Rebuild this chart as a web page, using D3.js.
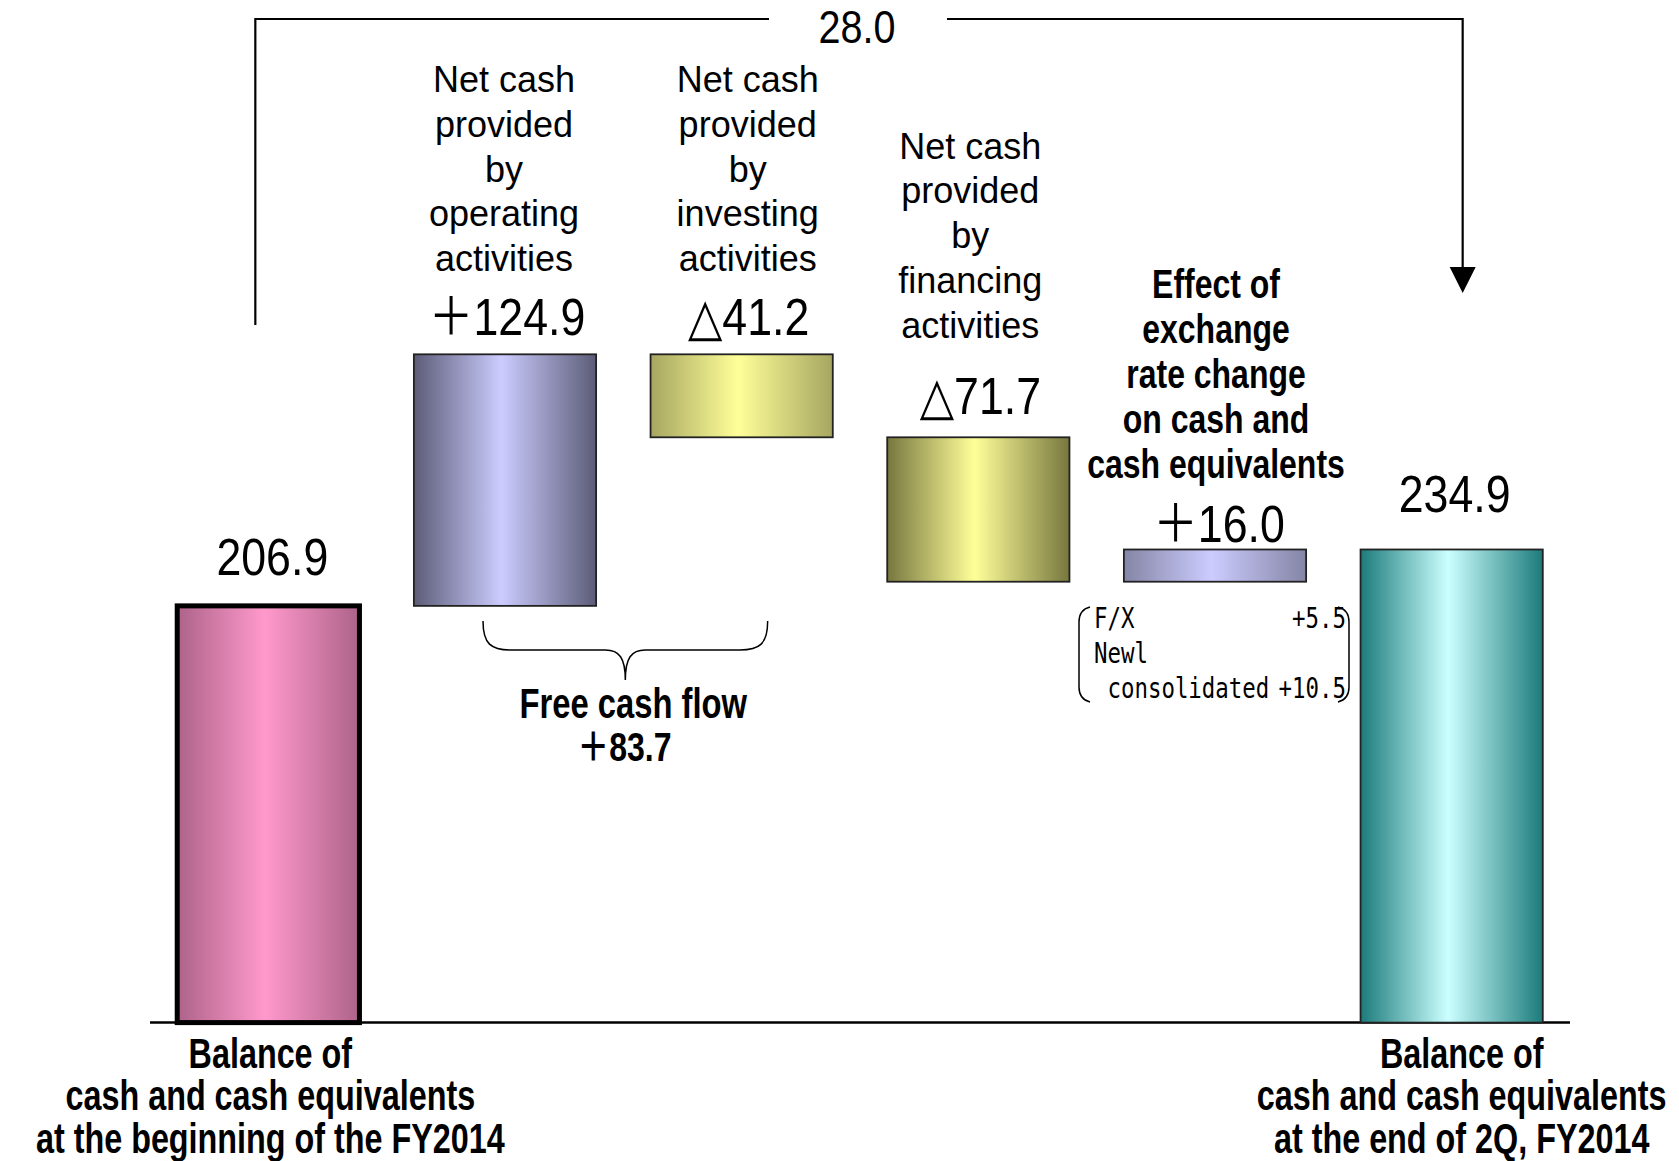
<!DOCTYPE html>
<html>
<head>
<meta charset="utf-8">
<script src="https://cdn.jsdelivr.net/npm/d3@7"></script>
<style>
  body { margin: 0; background: #fff; }
  svg { display: block; }
  text { font-family: "Liberation Sans", "DejaVu Sans", "Noto Sans CJK JP", sans-serif; fill: #000; }
</style>
</head>
<body>
<svg id="svg" width="1679" height="1161"></svg>
<script>
// DATA
var categories = ["begin", "operating", "investing", "financing", "fx", "end"];
var values = [206.9, 124.9, -41.2, -71.7, 16.0, 234.9];
var isTotal = [true, false, false, false, false, true];
var valueLabels = ["206.9", "＋124.9", "△41.2", "△71.7", "＋16.0", "234.9"];
var topLabels = {
  operating: ["Net cash", "provided", "by", "operating", "activities"],
  investing: ["Net cash", "provided", "by", "investing", "activities"],
  financing: ["Net cash", "provided", "by", "financing", "activities"],
  fx: ["Effect of", "exchange", "rate change", "on cash and", "cash equivalents"]
};
var bottomLabels = {
  begin: ["Balance of", "cash and cash equivalents", "at the beginning of the FY2014"],
  end: ["Balance of", "cash and cash equivalents", "at the end of 2Q, FY2014"]
};
var totalChange = "28.0";
var freeCashFlow = ["Free cash flow", "＋83.7"];
var fxItems = [["F/X", "+5.5"], ["Newl", ""], [" consolidated", "+10.5"]];

// colours: [edge, centre]
var barColors = {
  begin: ["#ad6389", "#ff99cc"],
  operating: ["#5c5c78", "#ccccff"],
  investing: ["#a6a661", "#ffff99"],
  financing: ["#77773f", "#ffff99"],
  fx: ["#8585a6", "#ccccff"],
  end: ["#1c7b7b", "#ccffff"]
};

// SETUP
var svg = d3.select("#svg");

var x = d3.scaleBand()
  .domain(categories)
  .range([150, 1570])
  .paddingInner(0.23)
  .paddingOuter(0.115);

var y = d3.scaleLinear()
  .domain([0, 340])
  .range([1022.6, 337.8]);

// waterfall steps
var run = 0;
var steps = categories.map(function (c, i) {
  var v = values[i], y0, y1;
  if (isTotal[i]) { y0 = 0; y1 = v; run = v; }
  else { y0 = run; y1 = run + v; run += v; }
  return { key: c, v: v, lo: Math.min(y0, y1), hi: Math.max(y0, y1), label: valueLabels[i] };
});

var defs = svg.append("defs");
categories.forEach(function (c) {
  var gr = defs.append("linearGradient")
    .attr("id", "grad-" + c)
    .attr("x1", 0).attr("x2", 1).attr("y1", 0).attr("y2", 0);
  gr.append("stop").attr("offset", "0%").attr("stop-color", barColors[c][0]);
  gr.append("stop").attr("offset", "48%").attr("stop-color", barColors[c][1]);
  gr.append("stop").attr("offset", "100%").attr("stop-color", barColors[c][0]);
});

function cx(c) { return x(c) + x.bandwidth() / 2; }

// squeezed text helper
function label(g, px, py, s, size, weight, sx, anchor) {
  return g.append("text")
    .attr("transform", "translate(" + px + "," + py + ") scale(" + sx + ",1)")
    .attr("text-anchor", anchor || "middle")
    .attr("font-size", size)
    .attr("font-weight", weight)
    .style("white-space", "pre")
    .text(s);
}

// baseline
svg.append("line")
  .attr("x1", 150).attr("x2", 1570)
  .attr("y1", y(0)).attr("y2", y(0))
  .attr("stroke", "#000")
  .attr("stroke-width", 2.5);

// bars
svg.selectAll(".bar")
  .data(steps)
  .enter().append("rect")
  .attr("class", "bar")
  .attr("x", function (d) { return x(d.key); })
  .attr("y", function (d) { return y(d.hi); })
  .attr("width", x.bandwidth())
  .attr("height", function (d) { return y(d.lo) - y(d.hi); })
  .attr("fill", function (d) { return "url(#grad-" + d.key + ")"; })
  .attr("stroke", function (d) { return d.key == "begin" ? "#000" : "#222"; })
  .attr("stroke-width", function (d) { return d.key == "begin" ? 5 : 1.8; });

// value labels above bars
var labelGap = { begin: 31, operating: 19, investing: 19, financing: 23, fx: 7, end: 37 };
var labelDx = { begin: 4, operating: 2, investing: 7, financing: 2, fx: 4, end: 3 };
steps.forEach(function (d) {
  label(svg, cx(d.key) + labelDx[d.key], y(d.hi) - labelGap[d.key], d.label, 52, "normal", 0.86);
});

// category labels above
var topFirst = { operating: 92, investing: 92, financing: 158.5, fx: 298 };
var topDx = { operating: -1, investing: 6, financing: -8, fx: 1 };
Object.keys(topLabels).forEach(function (c) {
  topLabels[c].forEach(function (s, i) {
    if (c == "fx") label(svg, cx(c) + topDx[c], topFirst[c] + i * 45, s, 41, "bold", 0.78);
    else label(svg, cx(c) + topDx[c], topFirst[c] + i * 44.8, s, 36, "normal", 1);
  });
});

// bottom labels
Object.keys(bottomLabels).forEach(function (c) {
  bottomLabels[c].forEach(function (s, i) {
    label(svg, cx(c) + (c == "end" ? 10 : 2), y(0) + 45 + i * 42.5, s, 42, "bold", 0.77);
  });
});

// total change bracket with arrow
var lx = cx("begin") - 13, rx = cx("end") + 11, topY = 19;
svg.append("path")
  .attr("d", "M" + lx + ",325V" + topY + "H769")
  .attr("fill", "none").attr("stroke", "#000").attr("stroke-width", 2.2);
svg.append("path")
  .attr("d", "M947," + topY + "H" + rx + "V270")
  .attr("fill", "none").attr("stroke", "#000").attr("stroke-width", 2.2);
svg.append("path")
  .attr("d", "M" + (rx - 13) + ",267L" + (rx + 13) + ",267L" + rx + ",293Z")
  .attr("fill", "#000");
label(svg, 857, 43, totalChange, 46, "normal", 0.86);

// free cash flow brace
var bl = cx("operating") - 22, br = cx("investing") + 26, bm = (bl + br) / 2;
var bt = 621, bh = 650, bp = 680;
svg.append("path")
  .attr("d", "M" + bl + "," + bt + "C" + bl + "," + (bh - 6) + " " + (bl + 8) + "," + bh + " " + (bl + 28) + "," + bh +
    "L" + (bm - 20) + "," + bh + "C" + (bm - 6) + "," + bh + " " + bm + "," + (bh + 8) + " " + bm + "," + bp +
    "C" + bm + "," + (bh + 8) + " " + (bm + 6) + "," + bh + " " + (bm + 20) + "," + bh +
    "L" + (br - 28) + "," + bh + "C" + (br - 8) + "," + bh + " " + br + "," + (bh - 6) + " " + br + "," + bt)
  .attr("fill", "none").attr("stroke", "#000").attr("stroke-width", 1.5);
label(svg, bm + 8, 718, freeCashFlow[0], 42, "bold", 0.78);
label(svg, bm - 1, 761, freeCashFlow[1], 40, "bold", 0.8);

// F/X breakdown
var fxLeft = 1094, fxRight = 1346;
fxItems.forEach(function (r, i) {
  var by = 628 + i * 35;
  label(svg, fxLeft, by, r[0], 28, "normal", 0.8, "start").style("font-family", "'DejaVu Sans Mono', monospace");
  if (r[1]) label(svg, fxRight, by, r[1], 28, "normal", 0.8, "end").style("font-family", "'DejaVu Sans Mono', monospace");
});
svg.append("path")
  .attr("d", "M1090,607C1082,609 1079,614 1079,622V687C1079,695 1082,700 1090,702")
  .attr("fill", "none").attr("stroke", "#000").attr("stroke-width", 1.5);
svg.append("path")
  .attr("d", "M1338,607C1346,609 1349,614 1349,622V687C1349,695 1346,700 1338,702")
  .attr("fill", "none").attr("stroke", "#000").attr("stroke-width", 1.5);
</script>
</body>
</html>
